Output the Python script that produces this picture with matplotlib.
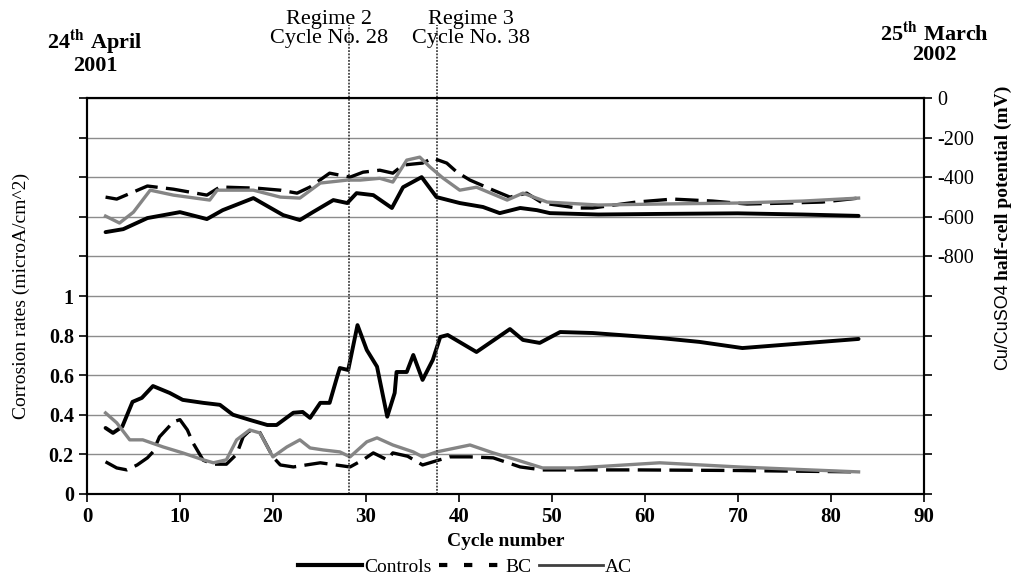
import numpy as np
import matplotlib.pyplot as plt
from matplotlib.lines import Line2D
from matplotlib.ticker import FixedLocator, FuncFormatter

plt.rcParams['font.family'] = ['Liberation Serif', 'DejaVu Serif']
plt.rcParams['mathtext.fontset'] = 'stix'

# half-cell potential (mV), right axis
ctrl_pot_x = [2, 3.9, 6.5, 10, 12.9, 14.6, 17.9, 21.1, 22.9, 24.3, 26.5, 28, 29, 30.8, 32.8, 34, 36, 37.6,
              40.1, 42.6, 44.4, 46.6, 48.4, 49.8, 55, 61.6, 70, 77, 83]
ctrl_pot = [-677, -662, -606, -576, -611, -566, -505, -591, -616, -576, -515, -530, -480, -490, -555, -450, -399, -500,
            -530, -550, -581, -555, -566, -581, -588, -585, -582, -588, -595]

bc_pot_x = [2, 3.2, 6.5, 9.3, 12.9, 14.3, 18.3, 20.8, 22.6, 24, 26.1, 28.3, 29.7, 31.5, 32.9, 34, 36.1, 37.2,
            38.7, 39.8, 41.2, 43.7, 45.5, 47.3, 49, 52.7, 54.4, 59.1, 63, 67.3, 71, 75.3, 79.1, 83]
bc_pot = [-500, -510, -444, -460, -490, -449, -455, -465, -480, -449, -379, -399, -374, -364, -379, -338, -328, -303,
          -328, -374, -414, -465, -500, -480, -530, -555, -555, -525, -510, -520, -535, -530, -525, -505]

ac_pot_x = [2, 3.5, 5, 6.8, 9.3, 13.2, 14, 17.9, 20.8, 22.9, 25.1, 28, 29.4, 31.5, 32.9, 34.4, 35.8, 36.9,
            38.3, 40.1, 41.9, 45.2, 46.9, 49.5, 55, 61.6, 70, 77, 83]
ac_pot = [-596, -631, -576, -465, -490, -515, -465, -465, -500, -505, -429, -414, -414, -405, -424, -313, -298, -348,
          -404, -465, -450, -515, -480, -525, -540, -535, -530, -520, -505]

# corrosion rates (microA/cm^2), left axis
ctrl_cr_x = [2, 2.8, 3.8, 4.9, 5.9, 7.1, 8.9, 10.3, 12.5, 14.3, 15.7, 17.5, 19.4, 20.4, 22.2, 23.2, 24, 25.1,
             26.1, 26.9, 27.2, 28.1, 29.1, 30.1, 31.2, 32.3, 33.1, 33.3, 34.4, 35.1, 36.1, 37.2, 38, 38.8,
             41.9, 45.5, 46.9, 48.7, 50.9, 54.4, 61.6, 65.9, 70.5, 83]
ctrl_cr = [0.333, 0.308, 0.34, 0.465, 0.485, 0.545, 0.51, 0.475, 0.46, 0.45, 0.4, 0.374, 0.348, 0.348, 0.41, 0.414,
           0.384, 0.46, 0.46, 0.59, 0.636, 0.626, 0.853, 0.727, 0.643, 0.39, 0.51, 0.616, 0.616, 0.702, 0.576,
           0.677, 0.793, 0.803, 0.717, 0.833, 0.778, 0.763, 0.818, 0.813, 0.788, 0.768, 0.737, 0.783]

bc_cr_x = [2, 3.2, 4.3, 5.4, 6.5, 7.1, 7.8, 9.3, 10, 10.8, 11.4, 12.5, 13.6, 15, 16.1, 16.8, 17.5, 18.6, 20,
           20.8, 22.2, 25.1, 28.3, 29.7, 30.8, 32.3, 32.9, 34.5, 36.1, 39, 41.2, 43.7, 46.6, 49, 55.2, 59, 70, 83]
bc_cr = [0.162, 0.131, 0.121, 0.146, 0.182, 0.212, 0.288, 0.364, 0.375, 0.323, 0.258, 0.17, 0.15, 0.15, 0.2,
         0.288, 0.32, 0.31, 0.187, 0.146, 0.136, 0.157, 0.136, 0.172, 0.207, 0.172, 0.207, 0.19, 0.146, 0.187,
         0.187, 0.182, 0.136, 0.121, 0.121, 0.121, 0.118, 0.111]

ac_cr_x = [2, 3.2, 4.6, 6, 8.2, 10.3, 12.5, 13.6, 15, 16.1, 17.5, 18.6, 20, 21.5, 22.9, 24, 25.4, 27.2, 28.3,
           30.1, 31.2, 32.9, 35.1, 36.1, 37.6, 41.2, 43.7, 46.2, 49, 52.7, 61.6, 70.5, 83]
ac_cr = [0.409, 0.359, 0.273, 0.273, 0.237, 0.207, 0.172, 0.157, 0.172, 0.273, 0.323, 0.308, 0.187, 0.237, 0.273,
         0.232, 0.222, 0.212, 0.187, 0.263, 0.283, 0.247, 0.212, 0.187, 0.212, 0.247, 0.207, 0.172, 0.131, 0.131,
         0.157, 0.135, 0.111]

regime_cycles = [28.2, 37.7]
regime_labels = ["Regime 2\nCycle No. 28", "Regime 3\nCycle No. 38"]
regime_label_x = [26.0, 41.3]

fig = plt.figure(figsize=(10.16, 5.81), dpi=100)
ax = fig.add_axes([0.0856, 0.150, 0.8235, 0.681])
ax2 = ax.twinx()

ctrl_style = dict(color='black', lw=2.8, solid_capstyle='round', solid_joinstyle='round')
bc_style = dict(color='black', lw=2.4, dashes=(7, 2.5))
ac_style = dict(color='#858585', lw=2.4, solid_joinstyle='round')

ax.plot(ctrl_cr_x, ctrl_cr, **ctrl_style)
ax.plot(bc_cr_x, bc_cr, **bc_style)
ax.plot(ac_cr_x, ac_cr, **ac_style)
ax2.plot(ctrl_pot_x, ctrl_pot, **ctrl_style)
ax2.plot(bc_pot_x, bc_pot, **bc_style)
ax2.plot(ac_pot_x, ac_pot, **ac_style)

ax.set_xlim(0, 90)
ax.set_ylim(0, 2)
ax2.set_ylim(-2000, 0)

ax.set_xticks(np.arange(0, 91, 10))
ax.yaxis.set_major_locator(FixedLocator(np.arange(0, 2.01, 0.2)))
ax.yaxis.set_major_formatter(FuncFormatter(lambda v, p: ('%g' % round(v, 1)) if v < 1.05 else ''))
ax2.yaxis.set_major_locator(FixedLocator(np.arange(-2000, 1, 200)))
ax2.yaxis.set_major_formatter(FuncFormatter(lambda v, p: ('%d' % v) if v > -850 else ''))

ax.grid(axis='y', color='#8c8c8c', lw=1.0)
ax.set_axisbelow(True)
for a in (ax, ax2):
    for s in a.spines.values():
        s.set_linewidth(1.5)
ax.tick_params(axis='both', direction='out', length=6, width=1.2)
ax.tick_params(axis='x', labelsize=15)
ax.tick_params(axis='y', labelsize=14.5)
ax2.tick_params(axis='y', direction='out', length=6, width=1.2, labelsize=14.5)
for lab in ax.get_xticklabels() + ax.get_yticklabels():
    lab.set_fontweight('bold')

ax.set_xlabel('Cycle number', fontsize=14, fontweight='bold', labelpad=4)

fig.text(21 / 1016, 1 - 296 / 581, 'Corrosion rates (microA/cm^2)', rotation=90, ha='center', va='center',
         fontsize=14)

# right axis title: formula part in a sans face, the rest in bold serif
t1 = fig.text(1003 / 1016, 1 - 370 / 581, 'Cu/CuSO4', rotation=90, ha='center', va='bottom',
              fontsize=13, family='Liberation Sans')
fig.canvas.draw()
top = t1.get_window_extent(fig.canvas.get_renderer()).y1 / fig.bbox.height
fig.text(1003 / 1016, top + 0.006, 'half-cell potential (mV)', rotation=90, ha='center', va='bottom',
         fontsize=14, fontweight='bold')

for xc in regime_cycles:
    ax.axvline(xc, ymin=0, ymax=1.185, color='#444444', lw=1.3, ls=(0, (1, 0.8)), clip_on=False)
for xc, txt in zip(regime_label_x, regime_labels):
    ax.text(xc, 2.0 + 69 / 198, txt, ha='center', va='center', fontsize=16, linespacing=1.0)

fig.text(95 / 1016, 1 - 52 / 581, '24$^{\\mathbf{th}}$ April\n2001', ha='center', va='center',
         fontsize=16, fontweight='bold', linespacing=0.95)
fig.text(934 / 1016, 1 - 44 / 581, '25$^{\\mathbf{th}}$ March\n2002', ha='center', va='center',
         fontsize=16, fontweight='bold', linespacing=0.95)

handles = [Line2D([], [], color='black', lw=3.0),
           Line2D([], [], color='black', lw=3.0, dashes=(2, 4)),
           Line2D([], [], color='#404040', lw=2.0)]
fig.legend(handles, ['Controls', 'BC', 'AC'], loc='center', bbox_to_anchor=(465 / 1016, 1 - 567 / 581), ncol=3,
           frameon=False, fontsize=14, handlelength=3.3, handletextpad=0.1, columnspacing=0.4)

fig.savefig('out.png', dpi=100)
